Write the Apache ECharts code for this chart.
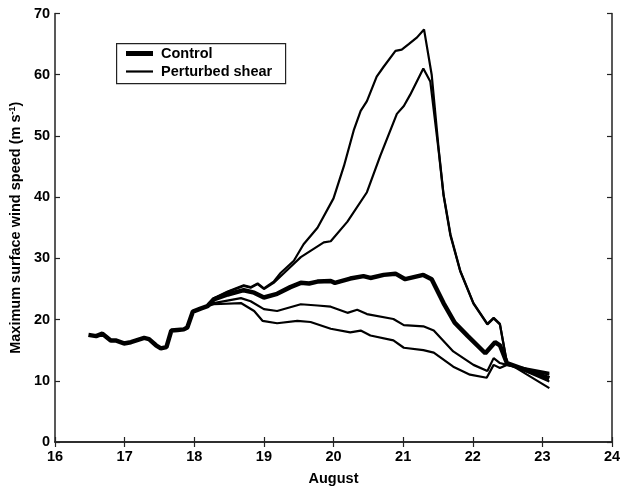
<!DOCTYPE html>
<html><head><meta charset="utf-8">
<script src="https://cdn.jsdelivr.net/npm/echarts@6/dist/echarts.min.js"></script>
<style>html,body{margin:0;padding:0;background:#fff}#c{width:624px;height:491px}</style>
</head><body><div id="c"></div>
<script>
const xTicks = [16, 17, 18, 19, 20, 21, 22, 23, 24];
const yTicks = [0, 10, 20, 30, 40, 50, 60, 70];
const seriesNames = ['Control', 'Perturbed shear'];
const control = [[16.48,17.5],[16.59,17.3],[16.68,17.7],[16.80,16.6],[16.87,16.6],[16.99,16.1],[17.09,16.3],[17.28,17.0],[17.35,16.8],[17.45,15.8],[17.52,15.3],[17.60,15.5],[17.67,18.2],[17.76,18.3],[17.85,18.4],[17.90,18.7],[17.98,21.3],[18.09,21.8],[18.19,22.2],[18.28,23.3],[18.48,24.1],[18.71,24.8],[18.86,24.4],[19.0,23.6],[19.19,24.2],[19.38,25.3],[19.53,26.0],[19.65,25.9],[19.77,26.2],[19.96,26.3],[20.02,26.0],[20.24,26.7],[20.43,27.1],[20.53,26.8],[20.72,27.3],[20.89,27.5],[21.03,26.6],[21.29,27.3],[21.41,26.6],[21.58,22.7],[21.74,19.5],[21.93,17.3],[22.18,14.5],[22.32,16.3],[22.39,15.8],[22.49,12.9],[23.10,10.4]];
const perturbed1 = [[18.19,22.2],[18.28,23.5],[18.48,24.6],[18.71,25.6],[18.81,25.3],[18.91,25.9],[19.0,25.1],[19.14,26.2],[19.24,27.6],[19.43,29.6],[19.57,32.3],[19.77,35.0],[20.0,39.8],[20.15,45.1],[20.29,50.9],[20.39,54.1],[20.48,55.7],[20.62,59.7],[20.72,61.3],[20.89,63.9],[20.98,64.1],[21.08,65.0],[21.2,66.1],[21.30,67.4],[21.41,60.0],[21.51,47.9],[21.58,40.5],[21.68,33.9],[21.82,28.0],[22.01,22.7],[22.21,19.3],[22.30,20.3],[22.39,19.3],[22.49,13.0],[23.10,8.8]];
const perturbed2 = [[18.19,22.2],[18.28,23.4],[18.48,24.5],[18.71,25.5],[18.81,25.2],[18.91,25.8],[19.0,25.0],[19.14,26.0],[19.29,27.6],[19.53,30.2],[19.86,32.6],[19.96,32.8],[20.2,36.0],[20.48,40.8],[20.67,46.7],[20.91,53.6],[21.01,54.9],[21.1,56.7],[21.29,61.0],[21.39,58.9],[21.51,47.6],[21.58,40.3],[21.68,33.7],[21.82,27.9],[22.01,22.6],[22.21,19.2],[22.30,20.2],[22.39,19.2],[22.49,12.9],[23.10,9.9]];
const perturbed3 = [[18.19,22.2],[18.28,22.7],[18.67,23.5],[18.81,23.0],[19.0,21.7],[19.19,21.4],[19.53,22.5],[19.77,22.3],[19.96,22.1],[20.2,21.1],[20.34,21.6],[20.48,20.9],[20.86,20.1],[21.01,19.1],[21.29,18.9],[21.44,18.2],[21.72,14.8],[22.01,12.6],[22.21,11.6],[22.30,13.7],[22.39,12.9],[22.49,12.6],[23.10,11.0]];
const perturbed4 = [[18.19,22.2],[18.28,22.5],[18.67,22.7],[18.86,21.4],[18.98,19.8],[19.19,19.4],[19.48,19.8],[19.67,19.6],[19.96,18.5],[20.24,17.9],[20.39,18.2],[20.53,17.4],[20.86,16.6],[21.01,15.4],[21.29,15.0],[21.44,14.6],[21.72,12.3],[21.96,11.0],[22.2,10.5],[22.3,12.6],[22.39,12.1],[22.49,12.6],[23.10,11.3]];

const FONT = 'Liberation Sans, Arial, sans-serif';
const chart = echarts.init(document.getElementById('c'), null, {renderer: 'canvas'});
const thin = d => ({name: seriesNames[1], type: 'line', data: d, symbol: 'none', smooth: false,
  lineStyle: {color: '#000', width: 2.2}, itemStyle: {color: '#000'}, z: 3});
const axisCommon = {
  axisLine: {show: true, lineStyle: {color: '#222', width: 1.5}},
  axisTick: {show: true, inside: true, length: 5, lineStyle: {color: '#222', width: 1.2}},
  splitLine: {show: false}
};
const legendText = {fontFamily: FONT, fontWeight: 'bold', fontSize: 14.5, color: '#000', padding: [0, 0, 0, 3]};
chart.setOption({
  animation: false,
  backgroundColor: '#fff',
  grid: {left: 54, right: 12, top: 13.5, bottom: 38.5},
  graphic: [{type: 'rect', left: 116, top: 43, shape: {width: 169, height: 40},
    style: {fill: '#fff', stroke: '#222', lineWidth: 1.2}, z: 100}],
  legend: [
    {data: [seriesNames[0]], left: 126, top: 46, icon: 'rect', itemWidth: 27, itemHeight: 5,
      padding: 0, textStyle: legendText, itemStyle: {color: '#000'}, z: 101},
    {data: [seriesNames[1]], left: 126, top: 64, icon: 'rect', itemWidth: 27, itemHeight: 2.2,
      padding: 0, textStyle: legendText, itemStyle: {color: '#000'}, z: 101}
  ],
  xAxis: [
    Object.assign({type: 'value', min: xTicks[0], max: xTicks[xTicks.length - 1], interval: 1,
      name: 'August', nameLocation: 'middle', nameGap: 29,
      nameTextStyle: {fontFamily: FONT, fontWeight: 'bold', fontSize: 14.5, color: '#000'},
      axisLabel: {margin: 7, fontFamily: FONT, fontWeight: 'bold', fontSize: 14.5, color: '#000'}}, axisCommon),
    Object.assign({type: 'value', position: 'top', min: xTicks[0], max: xTicks[xTicks.length - 1], interval: 1,
      axisLabel: {show: false}}, axisCommon)
  ],
  yAxis: [
    Object.assign({type: 'value', min: yTicks[0], max: yTicks[yTicks.length - 1], interval: 10,
      name: 'Maximum surface wind speed (m s{sup|-1})', nameLocation: 'middle', nameGap: 32,
      nameTextStyle: {fontFamily: FONT, fontWeight: 'bold', fontSize: 14.5, color: '#000',
        rich: {sup: {fontFamily: FONT, fontWeight: 'bold', fontSize: 9, color: '#000', verticalAlign: 'top', padding: [0, 0, 6, 0]}}},
      axisLabel: {margin: 5, fontFamily: FONT, fontWeight: 'bold', fontSize: 14.5, color: '#000'}}, axisCommon),
    Object.assign({type: 'value', position: 'right', min: yTicks[0], max: yTicks[yTicks.length - 1], interval: 10,
      axisLabel: {show: false}}, axisCommon)
  ],
  series: [
    {name: seriesNames[0], type: 'line', data: control, symbol: 'none',
      lineStyle: {color: '#000', width: 4.5}, itemStyle: {color: '#000'}, z: 2},
    thin(perturbed1), thin(perturbed2), thin(perturbed3), thin(perturbed4)
  ]
});
</script></body></html>
